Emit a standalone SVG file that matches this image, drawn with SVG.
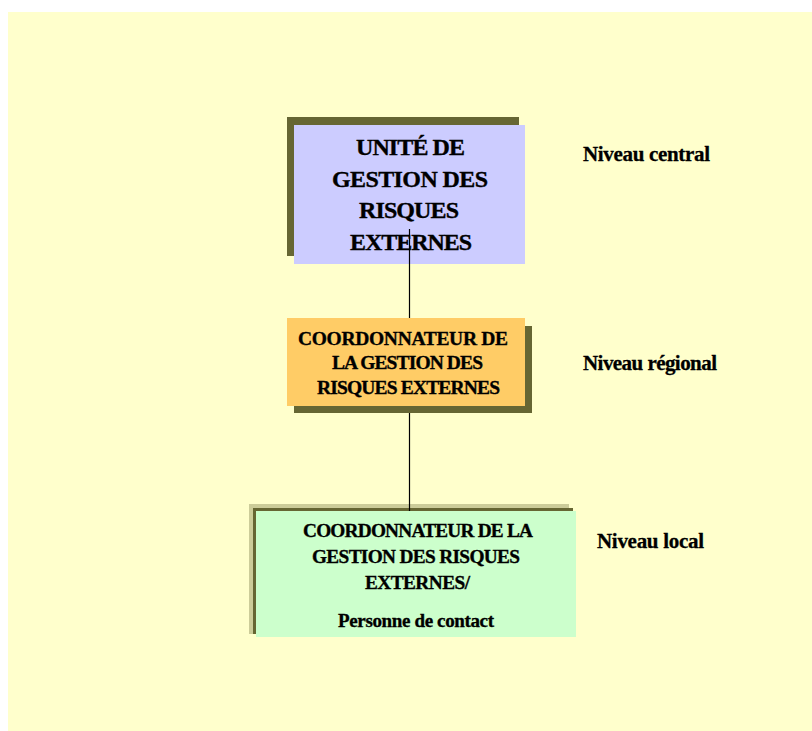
<svg xmlns="http://www.w3.org/2000/svg" width="812" height="731" viewBox="0 0 812 731">
<style>
.t{font-family:"Liberation Serif","Times New Roman",serif;font-weight:bold;fill:#000;stroke:#000;stroke-width:0.35;text-anchor:middle}
.lbl{font-family:"Liberation Serif","Times New Roman",serif;font-weight:bold;fill:#000;stroke:#000;stroke-width:0.3;font-size:21px}
.sh{fill:#666633}
.sh2{fill:#cccc99}
.conn{stroke:#000;stroke-width:1.2;fill:none}
</style>
<rect x="0" y="0" width="812" height="731" fill="#ffffff"/>
<rect x="8" y="12" width="804" height="719" fill="#ffffcc"/>

<g id="node-unite">
<rect class="sh" x="287" y="117" width="232" height="139"/>
<rect x="294" y="125" width="231" height="139" fill="#ccccff"/>
<text class="t" font-size="24" x="410.5" y="155" textLength="109" lengthAdjust="spacing">UNITÉ DE</text>
<text class="t" font-size="24" x="410" y="187" textLength="156" lengthAdjust="spacing">GESTION DES</text>
<text class="t" font-size="24" x="409" y="218" textLength="100" lengthAdjust="spacing">RISQUES</text>
<text class="t" font-size="24" x="411" y="250" textLength="122" lengthAdjust="spacing">EXTERNES</text>
</g>

<g id="node-local">
<rect class="sh2" x="249" y="504" width="320" height="130"/>
<rect class="sh" x="253" y="508" width="320" height="126"/>
<rect x="256" y="511" width="320" height="126" fill="#ccffcc"/>
<text class="t" font-size="19.3" x="418" y="537" textLength="230" lengthAdjust="spacing">COORDONNATEUR DE LA</text>
<text class="t" font-size="19.3" x="416" y="563" textLength="208" lengthAdjust="spacing">GESTION DES RISQUES</text>
<text class="t" font-size="19.3" x="417.5" y="589" textLength="105" lengthAdjust="spacing">EXTERNES/</text>
<text class="t" font-size="19" x="416" y="627" textLength="156" lengthAdjust="spacing">Personne de contact</text>
</g>

<g id="connectors">
<line class="conn" x1="409.5" y1="229" x2="409.5" y2="511"/>
</g>

<g id="node-regional">
<rect class="sh" x="294" y="326" width="238" height="87"/>
<rect x="287" y="318" width="238" height="88" fill="#ffcc66"/>
<text class="t" font-size="19.5" x="403" y="345" textLength="210" lengthAdjust="spacing">COORDONNATEUR DE</text>
<text class="t" font-size="19.5" x="407.5" y="369" textLength="151" lengthAdjust="spacing">LA GESTION DES</text>
<text class="t" font-size="19.5" x="408.5" y="394" textLength="183" lengthAdjust="spacing">RISQUES EXTERNES</text>
</g>

<g id="labels">
<text class="lbl" x="583" y="161" textLength="127" lengthAdjust="spacing">Niveau central</text>
<text class="lbl" x="583" y="370" textLength="134" lengthAdjust="spacing">Niveau régional</text>
<text class="lbl" x="597" y="548" textLength="107" lengthAdjust="spacing">Niveau local</text>
</g>
</svg>
